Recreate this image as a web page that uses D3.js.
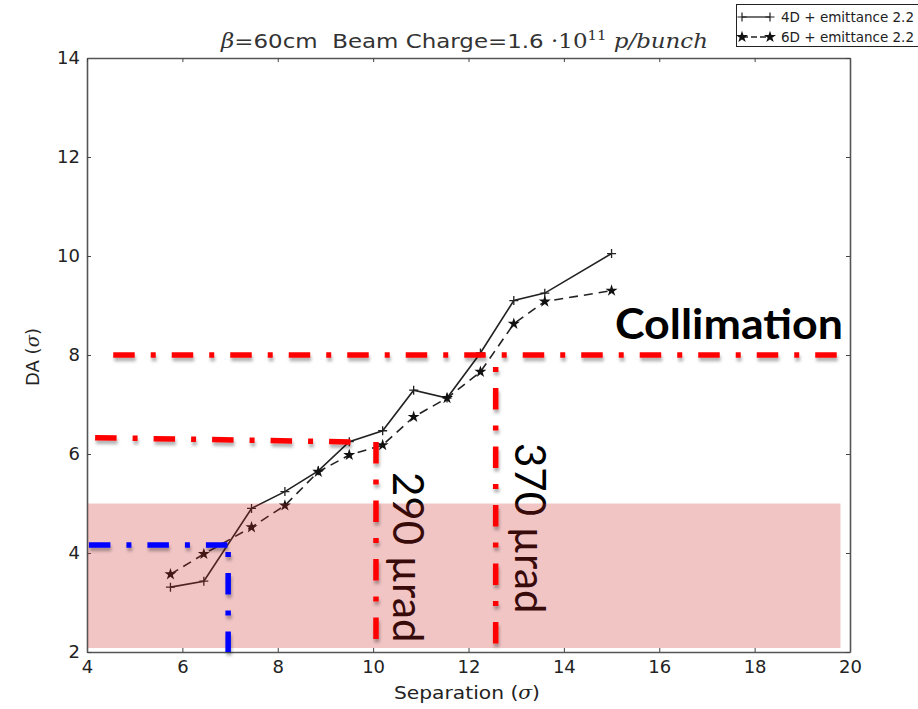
<!DOCTYPE html>
<html><head><meta charset="utf-8">
<script src="https://cdn.jsdelivr.net/npm/d3@7"></script>
<style>body{margin:0;background:#fff}</style>
</head><body><svg id="c" width="918" height="709"></svg>
<script>
// Separation scan (in sigma) and dynamic aperture results
const separation = [5.75, 6.45, 7.45, 8.15, 8.85, 9.5, 10.2, 10.85, 11.55, 12.25, 12.95, 13.6, 15.0];
const da4D = [3.31, 3.43, 4.90, 5.24, 5.66, 6.25, 6.47, 7.29, 7.13, 8.04, 9.10, 9.25, 10.05];
const da6D = [3.57, 3.98, 4.52, 4.96, 5.64, 5.98, 6.18, 6.75, 7.13, 7.66, 8.63, 9.08, 9.30];
const seriesNames = ["4D + emittance 2.2", "6D + emittance 2.2"];
const xTicks = [4, 6, 8, 10, 12, 14, 16, 18, 20];
const yTicks = [2, 4, 6, 8, 10, 12, 14];

// Reference levels and crossing angles
const collimationDA = 8.0;
const collimationFrom = 4.55;
const band = {x0: 4.02, x1: 19.8, y0: 2.08, y1: 5.0};
const angle290 = {sep: 10.06, daLeft: 6.33, daRight: 6.24, fromSep: 4.17, label: "290 µrad"};
const angle370 = {sep: 12.57, label: "370 µrad"};
const minDA = {sep: 6.96, da: 4.16, fromSep: 4.04};

const svg = d3.select("#c");
const W = 918, H = 709;
const L = 87, R = 850, T = 58, B = 652;
const x = d3.scaleLinear().domain([4, 20]).range([L, R]);
const y = d3.scaleLinear().domain([2, 14]).range([B, T]);

const defs = svg.append("defs");
const f = defs.append("filter").attr("id", "sh").attr("filterUnits", "userSpaceOnUse")
  .attr("x", 0).attr("y", 0).attr("width", W).attr("height", H);
f.append("feDropShadow").attr("dx", 1).attr("dy", 3.5).attr("stdDeviation", 1.6)
  .attr("flood-color", "#000").attr("flood-opacity", 0.3);

// axes frame with inward ticks
function tickAxis(gen, tr) {
  const g = svg.append("g").attr("transform", tr).call(gen);
  g.select(".domain").attr("stroke", "#555").attr("stroke-width", 1.6);
  g.selectAll(".tick line").attr("stroke", "#444");
  g.selectAll(".tick text").attr("font-family", "DejaVu Sans").attr("font-size", 18).attr("fill", "#222");
  return g;
}
tickAxis(d3.axisBottom(x).tickValues(xTicks).tickSizeInner(-4).tickSizeOuter(0).tickPadding(8), `translate(0,${B})`);
tickAxis(d3.axisLeft(y).tickValues(yTicks).tickSizeInner(-4).tickSizeOuter(0).tickPadding(7), `translate(${L},0)`);
const topAxis = tickAxis(d3.axisTop(x).tickValues(xTicks).tickSizeInner(-4).tickSizeOuter(0), `translate(0,${T})`);
topAxis.selectAll(".tick text").remove();
const rightAxis = tickAxis(d3.axisRight(y).tickValues(yTicks).tickSizeInner(-4).tickSizeOuter(0), `translate(${R},0)`);
rightAxis.selectAll(".tick text").remove();

// axis titles
const xl = svg.append("text").attr("x", 467).attr("y", 699).attr("text-anchor", "middle")
  .attr("font-family", "DejaVu Sans").attr("font-size", 18.5).attr("fill", "#222")
  .attr("textLength", 146).attr("lengthAdjust", "spacingAndGlyphs");
xl.append("tspan").text("Separation (");
xl.append("tspan").attr("font-family", "DejaVu Serif").attr("font-style", "italic").text("σ");
xl.append("tspan").text(")");
const yl = svg.append("text").attr("transform", "translate(39,357) rotate(-90)").attr("text-anchor", "middle")
  .attr("font-family", "DejaVu Sans").attr("font-size", 18).attr("fill", "#222");
yl.append("tspan").text("DA  (");
yl.append("tspan").attr("font-family", "DejaVu Serif").attr("font-style", "italic").text("σ");
yl.append("tspan").text(")");

// title
const tt = svg.append("text").attr("x", 221).attr("y", 48).attr("font-family", "DejaVu Sans")
  .attr("font-size", 20).attr("fill", "#333").attr("xml:space", "preserve")
  .attr("textLength", 487).attr("lengthAdjust", "spacingAndGlyphs");
tt.append("tspan").attr("font-family", "DejaVu Serif").attr("font-style", "italic").text("β");
tt.append("tspan").text("=60cm  Beam Charge=1.6 ");
tt.append("tspan").attr("font-family", "DejaVu Serif").text("·10");
tt.append("tspan").attr("font-family", "DejaVu Serif").attr("font-size", 13).attr("dy", -8).text("11");
tt.append("tspan").attr("font-family", "DejaVu Serif").attr("font-style", "italic").attr("dy", 8).text(" p/bunch");

// data series
const pts4 = separation.map((s, i) => [x(s), y(da4D[i])]);
const pts6 = separation.map((s, i) => [x(s), y(da6D[i])]);
const line = d3.line();
svg.append("path").attr("d", line(pts4)).attr("fill", "none").attr("stroke", "#222").attr("stroke-width", 1.6);
svg.append("path").attr("d", line(pts6)).attr("fill", "none").attr("stroke", "#222").attr("stroke-width", 1.6).attr("stroke-dasharray", "9,6");
const plus = "M-4.5,0H4.5M0,-4.5V4.5";
const star = d3.symbol().type(d3.symbolStar).size(45)();
svg.append("g").selectAll("path").data(pts4).join("path").attr("transform", d => `translate(${d})`)
  .attr("d", plus).attr("stroke", "#222").attr("stroke-width", 1.3).attr("fill", "none");
svg.append("g").selectAll("path").data(pts6).join("path").attr("transform", d => `translate(${d})`)
  .attr("d", star).attr("fill", "#111");

// angle labels
function vlabel(px, py, txt) {
  svg.append("text").attr("transform", `translate(${px},${py}) rotate(90)`)
    .attr("font-family", "Lato").attr("font-size", 42).attr("fill", "#000").text(txt);
}
vlabel(393, 472, angle290.label);
vlabel(515, 443, angle370.label);

// shaded band (DA below 5 sigma)
svg.append("rect").attr("x", x(band.x0)).attr("y", y(band.y1))
  .attr("width", x(band.x1) - x(band.x0)).attr("height", y(band.y0) - y(band.y1))
  .attr("fill", "rgb(208,40,40)").attr("fill-opacity", 0.27);

// dash-dot guide lines
const dd = "21.5,16,5,16";
function guide(pts, color, offset) {
  svg.append("path").attr("d", d3.line()(pts)).attr("fill", "none").attr("stroke", color)
    .attr("stroke-width", 5.5).attr("stroke-dasharray", dd).attr("stroke-dashoffset", offset || 0)
    .attr("filter", "url(#sh)");
}
guide([[x(collimationFrom), y(collimationDA)], [x(20), y(collimationDA)]], "#ff0000");
guide([[x(angle290.fromSep), y(angle290.daLeft)], [x(angle290.sep) - 14, y(angle290.daRight)]], "#ff0000");
guide([[x(angle290.sep), y(angle290.daRight)], [x(angle290.sep), y(2)]], "#ff0000");
guide([[x(angle370.sep), y(collimationDA) + 12], [x(angle370.sep), y(2)]], "#ff0000", 37.5);
guide([[x(minDA.fromSep), y(minDA.da)], [x(minDA.sep), y(minDA.da)]], "#0000ff");
guide([[x(minDA.sep), y(minDA.da)], [x(minDA.sep), y(2)]], "#0000ff", 30.5);

svg.append("text").attr("x", 615).attr("y", 339).attr("font-family", "Lato").attr("font-weight", "bold")
  .attr("font-size", 42).attr("fill", "#000").attr("textLength", 228).attr("lengthAdjust", "spacingAndGlyphs")
  .text("Collimation");

// legend
const lg = svg.append("g");
lg.append("rect").attr("x", 736.5).attr("y", 4.5).attr("width", 200).attr("height", 42)
  .attr("fill", "#fff").attr("stroke", "#222").attr("stroke-width", 1);
[0, 1].forEach(i => {
  const ly = 17 + i * 20;
  lg.append("line").attr("x1", 742).attr("x2", 770).attr("y1", ly).attr("y2", ly)
    .attr("stroke", "#222").attr("stroke-width", 1.3).attr("stroke-dasharray", i ? "6,3" : null);
  [742, 770].forEach(px => {
    lg.append("path").attr("transform", `translate(${px},${ly})`)
      .attr("d", i ? star : plus).attr("fill", i ? "#111" : "none").attr("stroke", i ? null : "#222").attr("stroke-width", 1.2);
  });
  lg.append("text").attr("x", 781).attr("y", ly + 5).attr("font-family", "DejaVu Sans").attr("font-size", 13.5)
    .attr("fill", "#222").text(seriesNames[i]);
});
</script>
</body></html>
